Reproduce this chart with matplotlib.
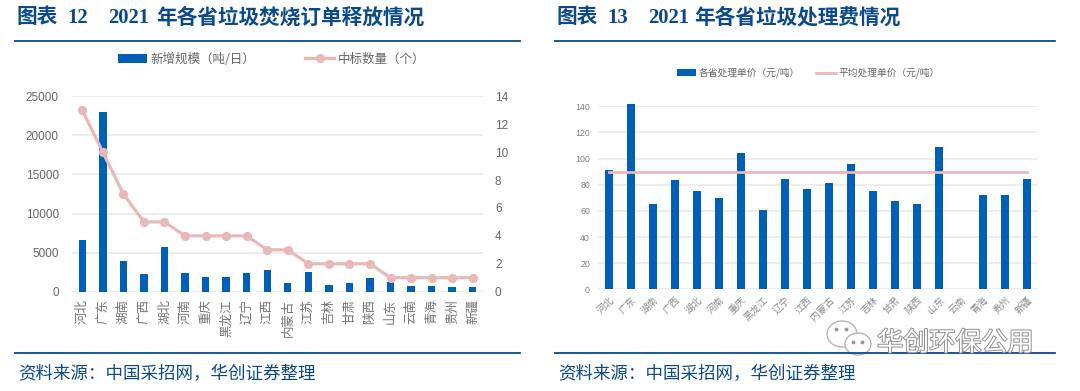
import matplotlib
matplotlib.use("Agg")
import matplotlib.pyplot as plt
import matplotlib.patheffects as pe
from matplotlib.patches import Ellipse

W, H = 1080, 391

# 数据
provinces = ["河北", "广东", "湖南", "广西", "湖北", "河南", "重庆", "黑龙江", "辽宁", "江西",
             "内蒙古", "江苏", "吉林", "甘肃", "陕西", "山东", "云南", "青海", "贵州", "新疆"]
new_scale = [6620, 23050, 3930, 2220, 5730, 2350, 1880, 1850, 2350, 2820,
             1150, 2560, 810, 1150, 1750, 1240, 730, 770, 640, 640]
bid_count = [13, 10, 7, 5, 5, 4, 4, 4, 4, 3, 3, 2, 2, 2, 2, 1, 1, 1, 1, 1]
unit_price = [91.2, 141.5, 65, 84, 75.4, 70.2, 104, 60.5, 84.6, 76.4,
              81.3, 96, 75, 67.2, 64.9, 108.8, None, 72.5, 71.8, 84.6]
avg_price = [89.7] * 20
left_ticks = [0, 5000, 10000, 15000, 20000, 25000]
count_ticks = [0, 2, 4, 6, 8, 10, 12, 14]
price_ticks = [0, 20, 40, 60, 80, 100, 120, 140]

BLUE = "#0060B8"
PINK = "#E8B9B9"
NAVY = "#0B4A8A"
GRID = "#E8E8E8"
CJK = "Noto Sans CJK SC"

plt.rcParams["font.family"] = ["Liberation Sans", CJK]


def add_axes_px(fig, x0, x1, y_top, y_bottom):
    return fig.add_axes([x0 / W, 1 - y_bottom / H, (x1 - x0) / W, (y_bottom - y_top) / H])


def style_axis(ax, ticks, top, size, color):
    ax.set_xlim(-0.5, 19.5)
    ax.set_ylim(0, top)
    ax.set_yticks(ticks)
    ax.set_xticks(range(20))
    for s in ax.spines.values():
        s.set_visible(False)
    ax.grid(axis="y", color=GRID, lw=1.1)
    ax.set_axisbelow(True)
    ax.tick_params(length=0, labelsize=size, labelcolor=color)


fig = plt.figure(figsize=(W / 100, H / 100), dpi=100, facecolor="white")

# 左图
ax1 = add_axes_px(fig, 72, 483, 96.3, 291.7)
style_axis(ax1, left_ticks, 25000, 8.5, "#666666")
bars1 = ax1.bar(range(20), new_scale, width=0.36, color=BLUE, label="新增规模（吨/日）")
ax1.set_xticklabels(provinces, rotation=90, family=CJK, fontsize=9)
ax1.tick_params(axis="y", pad=9.5)
ax1.tick_params(axis="x", pad=5.5, labelcolor="#737373")

ax1b = ax1.twinx()
ax1b.set_ylim(0, 14)
ax1b.set_yticks(count_ticks)
for s in ax1b.spines.values():
    s.set_visible(False)
ax1b.tick_params(length=0, labelsize=8.5, labelcolor="#666666", pad=8.6)
line1, = ax1b.plot(range(20), bid_count, color=PINK, lw=2.3, marker="o", ms=5.6,
                   solid_joinstyle="round", label="中标数量（个）")

# 右图
ax2 = add_axes_px(fig, 598, 1038, 106.3, 289.3)
style_axis(ax2, price_ticks, 140, 6.3, "#7F7F7F")
prices = [0 if v is None else v for v in unit_price]
bars2 = ax2.bar(range(20), prices, width=0.33, color=BLUE, label="各省处理单价（元/吨）",
                clip_on=False)
ax2.set_xticklabels(provinces, rotation=45, ha="right", rotation_mode="anchor",
                    family=CJK, fontsize=7)
ax2.tick_params(axis="y", pad=5.8)
ax2.tick_params(axis="x", pad=4, labelcolor="#8C8C8C")
line2, = ax2.plot(range(20), avg_price, color=PINK, lw=2, label="平均处理单价（元/吨）")

# 覆盖层：标题、分隔线、来源、水印
ov = fig.add_axes([0, 0, 1, 1], zorder=5)
ov.set_xlim(0, W)
ov.set_ylim(H, 0)
ov.axis("off")
ov.patch.set_alpha(0)

for x0, x1 in [(15, 520), (555, 1055)]:
    ov.plot([x0, x1], [40.5, 40.5], color=NAVY, lw=1.3)
    ov.plot([x0, x1], [353, 353], color=NAVY, lw=1.3)

title_kw = dict(color=NAVY, va="center", fontweight="bold", fontsize=14.9,
                family=["Liberation Serif", CJK])
ov.text(17, 18, "图表", **title_kw)
ov.text(67, 18, "12", **title_kw)
ov.text(108, 18, "2021", **title_kw)
ov.text(156, 18, "年各省垃圾焚烧订单释放情况", **title_kw)
ov.text(557, 18, "图表", **title_kw)
ov.text(607, 18, "13", **title_kw)
ov.text(648, 18, "2021", **title_kw)
ov.text(694, 18, "年各省垃圾处理费情况", **title_kw)

for x in [18, 558]:
    ov.text(x, 374, "资料来源：中国采招网，华创证券整理", color=NAVY, fontsize=12.6,
            va="center", family=CJK)

ov.legend([bars1, line1], [bars1.get_label(), line1.get_label()], ncol=2, loc="center",
          bbox_to_anchor=(271.5, 59), bbox_transform=ov.transData, frameon=False,
          prop={"family": CJK, "size": 9}, labelcolor="#666666", handlelength=2.35,
          handletextpad=0.25, columnspacing=3.96, borderpad=0, borderaxespad=0)
leg2 = ax2.legend([bars2, line2], [bars2.get_label(), line2.get_label()], ncol=2, loc="center",
                  bbox_to_anchor=(808, 73), bbox_transform=ov.transData, frameon=False,
                  prop={"family": CJK, "size": 7}, labelcolor="#666666", handlelength=2.0,
                  handletextpad=0.25, columnspacing=1.7, handleheight=0.6,
                  borderpad=0, borderaxespad=0)

wm_edge = "#B5B5B5"
ov.add_patch(Ellipse((842, 334), 30, 26, fc="white", ec=wm_edge, lw=1))
ov.add_patch(Ellipse((858, 344), 26, 22, fc="white", ec=wm_edge, lw=1))
ov.plot([836, 846, 853, 862], [329, 329, 342, 342], ls="none", marker="o", ms=1.8, color="#9A9A9A")
ov.text(877, 343, "华创环保公用", fontsize=18.8, color="white", va="center", family=CJK,
        path_effects=[pe.withStroke(linewidth=1.4, foreground="#8F8F8F")])

fig.savefig("out.png", dpi=100)
